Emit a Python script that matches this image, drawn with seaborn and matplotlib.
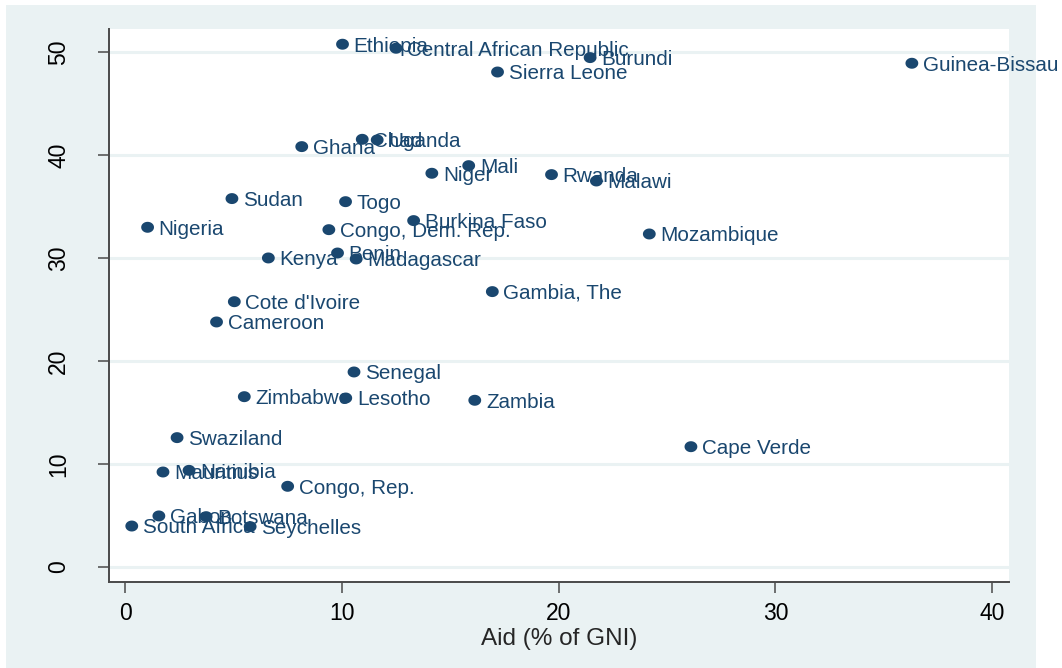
import numpy as np
import pandas as pd
import matplotlib
matplotlib.use('Agg')
import matplotlib.pyplot as plt
import seaborn as sns
from matplotlib.path import Path
from matplotlib.patches import Rectangle

# country, aid (% of GNI), y value
countries = ['Ethiopia', 'Central African Republic', 'Burundi', 'Guinea-Bissau',
             'Sierra Leone', 'Chad', 'Uganda', 'Ghana', 'Mali', 'Niger', 'Rwanda',
             'Malawi', 'Sudan', 'Togo', 'Nigeria', 'Burkina Faso', 'Congo, Dem. Rep.',
             'Mozambique', 'Benin', 'Kenya', 'Madagascar', 'Gambia, The',
             "Cote d'Ivoire", 'Cameroon', 'Senegal', 'Zimbabwe', 'Lesotho', 'Zambia',
             'Swaziland', 'Cape Verde', 'Mauritius', 'Namibia', 'Congo, Rep.',
             'Gabon', 'Botswana', 'South Africa', 'Seychelles']
aid = [10.03, 12.50, 21.45, 36.29, 17.18, 10.94, 11.63, 8.15, 15.85, 14.15, 19.67,
       21.74, 4.93, 10.17, 1.04, 13.31, 9.40, 24.18, 9.80, 6.61, 10.66, 16.94,
       5.04, 4.22, 10.56, 5.50, 10.18, 16.13, 2.40, 26.10, 1.75, 2.95, 7.50,
       1.56, 3.74, 0.31, 5.77]
yval = [50.80, 50.41, 49.50, 48.95, 48.10, 41.56, 41.50, 40.85, 39.00, 38.26, 38.13,
        37.51, 35.80, 35.50, 33.01, 33.66, 32.78, 32.36, 30.51, 30.03, 29.93, 26.76,
        25.78, 23.81, 18.95, 16.55, 16.42, 16.20, 12.57, 11.69, 9.23, 9.39, 7.84,
        4.96, 4.89, 3.98, 3.92]

xticks = [0, 10, 20, 30, 40]
yticks = [0, 10, 20, 30, 40, 50]

df = pd.DataFrame({'country': countries, 'aid': aid, 'y': yval})

navy = '#1A476F'
bluegray = '#EAF2F3'

sns.set_style('white')
plt.rcParams['font.family'] = ['Liberation Sans', 'DejaVu Sans']

fig = plt.figure(figsize=(10.62, 6.68), dpi=100)
fig.patch.set_facecolor('white')
# graph region (light bluish gray), behind the axes
bg = Rectangle((6 / 1062, 0), 1030 / 1062, 663 / 668,
               transform=fig.transFigure, facecolor=bluegray,
               edgecolor='none', zorder=-10)
fig.patches.append(bg)
ax = fig.add_axes([109 / 1062, 1 - 581.7 / 668, 900 / 1062, 552.4 / 668])
ax.set_zorder(1)
ax.set_facecolor('white')

# slightly wide ellipse marker
t = np.linspace(0, 2 * np.pi, 60)
ell = Path(np.column_stack([1.17 * np.cos(t), np.sin(t)]), closed=True)

sns.scatterplot(data=df, x='aid', y='y', ax=ax, marker=ell, s=85,
                color=navy, edgecolor='none', linewidth=0, zorder=3)

for c, xv, yv in zip(df['country'], df['aid'], df['y']):
    ax.annotate(c, (xv, yv), xytext=(8, -5.3), textcoords='offset points',
                ha='left', va='baseline', fontsize=14.9, color=navy,
                annotation_clip=False, zorder=4)

ax.set_xlim(-0.74, 40.77)
ax.set_ylim(-1.43, 52.25)
ax.set_xticks(xticks)
ax.set_yticks(yticks)
ax.set_xticklabels([str(v) for v in xticks])
ax.set_yticklabels([str(v) for v in yticks], rotation=90, va='center')

ax.yaxis.grid(True, color=bluegray, linewidth=2.2, zorder=1)
ax.xaxis.grid(False)
ax.set_axisbelow(True)

for s in ['top', 'right']:
    ax.spines[s].set_visible(False)
for s in ['left', 'bottom']:
    ax.spines[s].set_color('#4a4a4a')
    ax.spines[s].set_linewidth(1.4)

ax.tick_params(axis='both', direction='out', length=8, width=1.1,
               color='#4a4a4a', labelsize=16.5, labelcolor='black')
ax.tick_params(axis='x', pad=6.5, bottom=True)
ax.tick_params(axis='y', pad=20, left=True)

ax.set_xlabel('Aid (% of GNI)', fontsize=17.5, labelpad=2)
ax.set_ylabel('')

fig.savefig('out.png', dpi=100, facecolor=fig.get_facecolor())
